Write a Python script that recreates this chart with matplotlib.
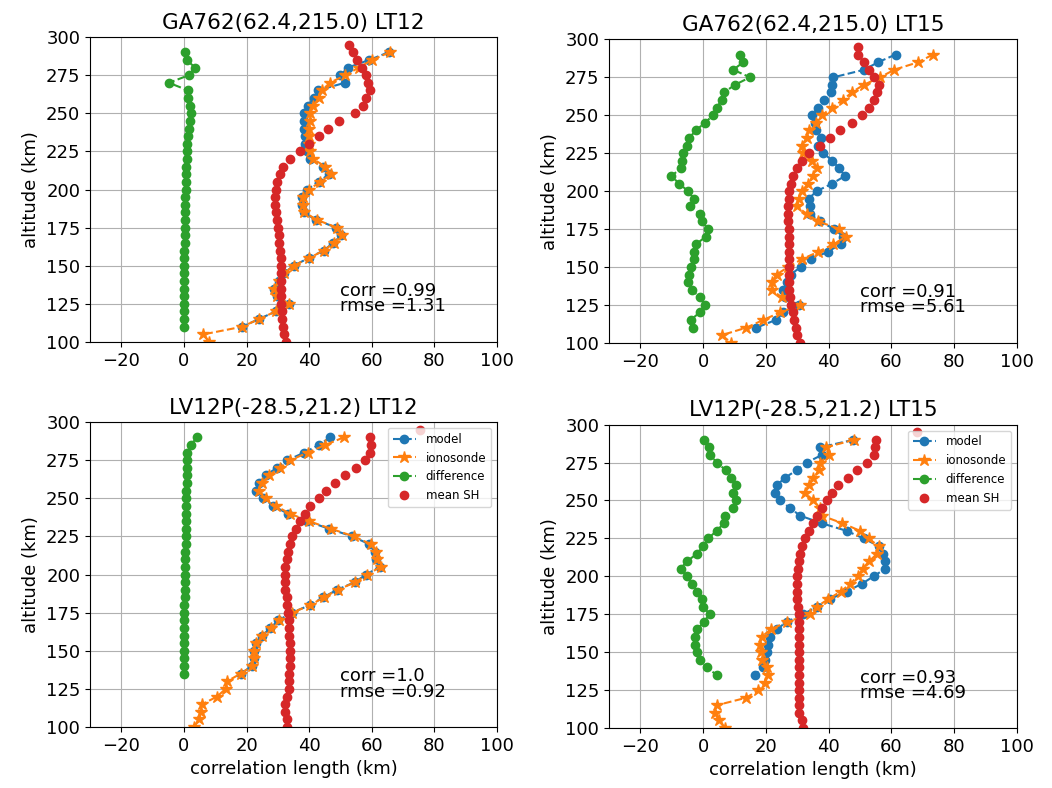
import numpy as np
import matplotlib
matplotlib.use("Agg")
import matplotlib.pyplot as plt

# altitude grid, top to bottom (km)
alt = [295, 290, 285, 280, 275, 270, 265, 260, 255, 250,
       245, 240, 235, 230, 225, 220, 215, 210, 205, 200,
       195, 190, 185, 180, 175, 170, 165, 160, 155, 150,
       145, 140, 135, 130, 125, 120, 115, 110, 105, 100]

titles = ["GA762(62.4,215.0) LT12", "GA762(62.4,215.0) LT15",
          "LV12P(-28.5,21.2) LT12", "LV12P(-28.5,21.2) LT15"]
corr = ["0.99", "0.91", "1.0", "0.93"]
rmse = ["1.31", "5.61", "0.92", "4.69"]

#### GA762 LT12
tl_model = [65.4, 59.2, 52.4, 50.0, 51.4, 42.8, 41.7, 39.5, 38.3, 38.3,
            38.3, 38.6, 38.8, 39.4, 40.4, 44.4, 46.3, 43.0, 39.4, 37.7,
            37.7, 38.2, 42.3, 48.7, 50.3, 47.7, 44.6, 39.8, 35.0, 31.9,
            30.3, 28.7, 29.8, 33.5, 29.3, 23.9, 18.6]
tl_iono = [65.7, 60.1, 55.9, 51.6, 46.6, 44.1, 43.1, 41.3, 40.4, 40.2,
           39.9, 39.9, 39.9, 40.4, 41.3, 45.2, 47.0, 43.6, 39.9, 38.1,
           38.1, 38.5, 42.6, 48.9, 50.5, 47.9, 44.7, 39.9, 35.1, 31.9,
           30.3, 28.7, 29.8, 33.5, 29.3, 23.9, 18.6, 6.2, 8.0]
tl_diff = [0.3, 0.9, 3.5, 1.6, -4.8, 1.3, 1.4, 1.8, 2.1, 1.9,
           1.6, 1.3, 1.1, 1.0, 0.9, 0.8, 0.7, 0.6, 0.5, 0.4,
           0.4, 0.3, 0.3, 0.2, 0.2, 0.2, 0.1, 0.1, 0.1, 0.0,
           0.0, 0.0, 0.0, 0.0, 0.0, 0.0, 0.0]
tl_sh = [52.7, 53.9, 55.3, 56.9, 58.3, 58.7, 59.4, 58.0, 57.2, 54.5,
         49.5, 46.1, 43.1, 39.9, 37.2, 34.0, 31.7, 30.6, 29.8, 29.4,
         29.0, 29.0, 29.3, 29.6, 30.0, 30.3, 30.5, 30.6, 30.9, 30.9,
         30.9, 30.9, 30.9, 30.9, 31.1, 31.2, 31.4, 31.6, 32.1, 32.7]

#### GA762 LT15
tr_model = [61.3, 55.8, 51.3, 41.5, 41.0, 40.7, 38.6, 36.7, 34.6, 35.5,
            36.1, 37.5, 36.5, 38.3, 41.2, 43.3, 45.2, 41.2, 36.2, 33.6,
            34.1, 34.1, 37.2, 41.8, 44.6, 43.8, 39.7, 34.4, 31.1, 27.9,
            26.6, 25.5, 26.1, 30.4, 25.6, 23.1, 17.0]
tr_iono = [73.2, 68.6, 60.9, 56.4, 51.1, 47.3, 44.5, 41.0, 37.8, 36.0,
           33.8, 33.0, 31.4, 31.9, 34.6, 36.2, 35.1, 33.5, 31.4, 30.6,
           29.8, 33.0, 36.7, 43.4, 45.5, 41.5, 36.7, 31.4, 27.1, 23.4,
           21.8, 21.8, 25.0, 30.9, 24.5, 19.1, 13.8, 5.9, 9.0]
tr_diff = [11.9, 12.8, 9.6, 14.9, 10.1, 6.6, 5.9, 4.3, 3.2, 0.5,
           -2.3, -4.5, -5.1, -6.4, -6.6, -7.1, -10.1, -7.7, -4.8, -3.0,
           -4.3, -1.1, -0.5, 1.6, 0.9, -2.3, -3.0, -3.0, -4.0, -4.5,
           -4.8, -3.7, -1.1, 0.5, -1.1, -4.0, -3.2]
tr_sh = [49.3, 49.5, 51.1, 52.7, 54.5, 55.9, 55.3, 54.3, 52.7, 50.5,
         47.3, 43.6, 40.4, 37.2, 33.8, 31.4, 29.8, 28.7, 27.9, 27.4,
         27.2, 27.1, 27.1, 27.1, 27.2, 27.2, 27.2, 27.3, 27.3, 27.3,
         27.4, 27.4, 27.5, 27.6, 27.9, 28.5, 28.9, 29.6, 30.0, 30.9]

#### LV12P LT12
bl_model = [46.8, 43.1, 38.5, 33.0, 29.6, 26.2, 24.1, 23.1, 25.3, 28.6,
            33.1, 39.3, 46.4, 53.8, 59.1, 61.1, 61.3, 62.5, 58.2, 54.6,
            48.9, 44.5, 40.3, 34.5, 30.2, 27.6, 25.0, 22.9, 22.3, 22.3,
            21.8, 18.1]
bl_iono = [51.1, 45.2, 39.6, 34.0, 30.6, 27.1, 25.0, 23.9, 26.1, 29.3,
           33.8, 39.9, 47.0, 54.3, 59.6, 61.5, 61.7, 62.8, 58.5, 54.8,
           49.1, 44.7, 40.4, 34.6, 30.3, 27.7, 25.0, 22.9, 22.3, 22.3,
           21.8, 18.1, 13.8, 13.3, 10.6, 5.9, 5.3, 4.8, 3.2]
bl_diff = [4.3, 2.1, 1.1, 1.0, 1.0, 0.9, 0.9, 0.8, 0.8, 0.7,
           0.7, 0.6, 0.6, 0.5, 0.5, 0.4, 0.4, 0.3, 0.3, 0.2,
           0.2, 0.2, 0.1, 0.1, 0.1, 0.1, 0.0, 0.0, 0.0, 0.0,
           0.0, 0.0]
bl_sh = [75.5, 59.4, 59.6, 59.4, 57.7, 55.1, 51.6, 48.4, 45.4, 43.1,
         40.4, 38.8, 37.0, 35.9, 34.6, 33.8, 33.2, 32.8, 32.4, 32.2,
         32.2, 32.4, 32.8, 33.0, 33.2, 33.5, 33.6, 33.7, 33.8, 33.8,
         33.8, 33.8, 33.7, 33.6, 33.5, 33.0, 32.4, 32.4, 32.8, 33.0]

#### LV12P LT15
br_model = [47.9, 37.2, 37.8, 33.0, 29.8, 26.1, 23.4, 22.9, 24.5, 27.7,
            30.9, 37.8, 45.7, 51.1, 55.9, 57.4, 58.0, 58.0, 54.3, 50.5,
            45.7, 40.4, 36.2, 31.9, 26.6, 23.4, 21.3, 20.7, 20.2, 19.7,
            19.1, 16.5]
br_iono = [48.1, 39.0, 40.1, 37.3, 37.0, 35.1, 33.8, 32.5, 35.1, 37.3,
           37.8, 44.4, 50.0, 52.7, 55.9, 55.5, 52.9, 50.8, 49.2, 46.8,
           43.8, 39.9, 36.2, 34.0, 26.8, 21.5, 18.6, 18.0, 18.3, 18.6,
           20.2, 20.8, 19.7, 17.6, 13.8, 4.3, 3.7, 5.0, 6.9]
br_diff = [0.2, 1.8, 2.3, 4.3, 7.2, 9.0, 10.4, 9.6, 10.6, 9.6,
           6.9, 6.6, 4.3, 1.6, 0.0, -1.9, -5.1, -7.2, -5.1, -3.7,
           -1.9, -0.5, 0.0, 2.1, 0.2, -1.9, -2.7, -2.7, -1.9, -1.1,
           1.1, 4.3]
br_sh = [68.1, 55.1, 54.8, 54.5, 52.1, 48.9, 46.3, 43.1, 41.0, 39.4,
         37.8, 36.2, 35.1, 33.8, 32.4, 31.4, 30.9, 30.6, 30.3, 30.0,
         29.8, 29.8, 30.0, 30.3, 30.6, 30.6, 30.6, 30.6, 30.6, 30.6,
         30.6, 30.6, 30.6, 30.6, 30.6, 30.6, 30.6, 30.6, 31.4, 31.9]

panels = [
    (tl_model, tl_iono, tl_diff, tl_sh),
    (tr_model, tr_iono, tr_diff, tr_sh),
    (bl_model, bl_iono, bl_diff, bl_sh),
    (br_model, br_iono, br_diff, br_sh),
]

# axes boxes [left, bottom, width, height] in figure fractions
boxes = [
    [0.0856, 0.566, 0.3868, 0.387],
    [0.5789, 0.565, 0.3878, 0.385],
    [0.0856, 0.0774, 0.3868, 0.387],
    [0.5789, 0.0761, 0.3878, 0.385],
]

fig = plt.figure(figsize=(10.52, 7.88), dpi=100)

for i, (model, iono, diff, sh) in enumerate(panels):
    ax = fig.add_axes(boxes[i])
    # model/ionosonde/difference start at 290 km (index 1 in alt)
    ax.plot(model, alt[1:1 + len(model)], 'o--', color='tab:blue', label='model')
    ax.plot(iono, alt[1:1 + len(iono)], '*--', color='tab:orange', ms=9, label='ionosonde')
    ax.plot(diff, alt[1:1 + len(diff)], 'o--', color='tab:green', label='difference')
    ax.plot(sh, alt[:len(sh)], 'o', color='tab:red', label='mean SH')
    ax.set_xlim(-30, 100)
    ax.set_ylim(100, 300)
    ax.grid(True)
    ax.set_title(titles[i], fontsize=15.5)
    ax.set_ylabel('altitude (km)', fontsize=13)
    ax.tick_params(labelsize=13)
    ax.text(50, 130, 'corr =' + corr[i], fontsize=13)
    ax.text(50, 120, 'rmse =' + rmse[i], fontsize=13)
    if i >= 2:
        ax.set_xlabel('correlation length (km)', fontsize=13)
        ax.legend(loc='upper right', fontsize=8.5)

fig.savefig('out.png', dpi=100)
